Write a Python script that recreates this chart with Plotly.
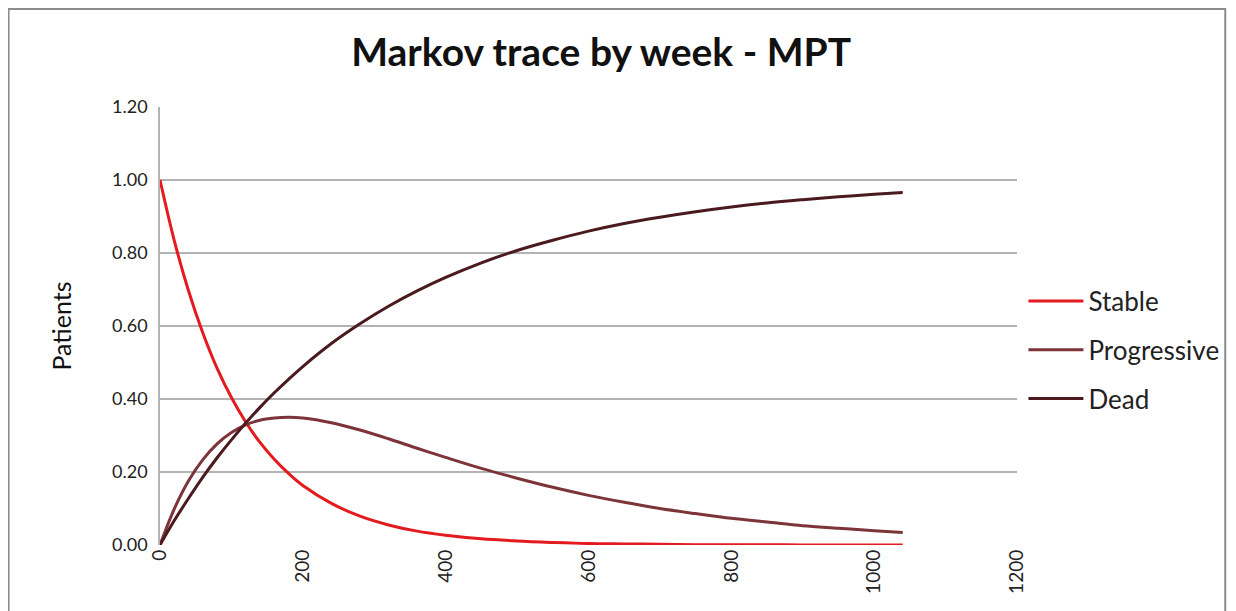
import plotly.graph_objects as go

weeks = [0, 20, 40, 60, 80, 100, 120, 140, 160, 180, 200, 240, 280, 320, 360, 400,
         450, 500, 550, 600, 650, 700, 750, 800, 850, 900, 950, 1000, 1040]
stable = [1.0, 0.834, 0.696, 0.581, 0.484, 0.404, 0.337, 0.281, 0.235, 0.196, 0.163,
          0.114, 0.079, 0.055, 0.038, 0.027, 0.017, 0.011, 0.007, 0.004, 0.003, 0.002,
          0.001, 0.001, 0.0005, 0.0003, 0.0002, 0.0001, 0.0001]
progressive = [0.0, 0.099, 0.176, 0.234, 0.277, 0.308, 0.329, 0.342, 0.348, 0.350, 0.348,
               0.335, 0.315, 0.291, 0.265, 0.240, 0.210, 0.183, 0.158, 0.136, 0.117, 0.100,
               0.086, 0.073, 0.063, 0.053, 0.046, 0.039, 0.034]
dead = [0.0, 0.067, 0.128, 0.186, 0.239, 0.288, 0.334, 0.377, 0.417, 0.454, 0.489,
        0.552, 0.606, 0.654, 0.696, 0.733, 0.773, 0.807, 0.835, 0.860, 0.881, 0.898,
        0.913, 0.926, 0.937, 0.946, 0.954, 0.961, 0.966]

series = [("Stable", stable, "#E31B1F"),
          ("Progressive", progressive, "#7D3439"),
          ("Dead", dead, "#4A1A1E")]

FONT = "Lato, 'Open Sans', sans-serif"

fig = go.Figure()
for i, (name, vals, col) in enumerate(series):
    fig.add_trace(go.Scatter(x=weeks, y=vals, name=name, mode="lines",
                             line=dict(color=col, width=3, shape="spline"),
                             legendgroup=f"g{i}"))

fig.update_layout(
    width=1228, height=603,
    margin=dict(l=152, r=216, t=99, b=66),
    paper_bgcolor="white", plot_bgcolor="white",
    font=dict(family=FONT, color="#222"),
    title=dict(text="<b>Markov trace by week - MPT</b>", x=0.483, xanchor="center",
               xref="container", yref="container",
               y=0.927, yanchor="middle", font=dict(size=39, family=FONT, color="#111")),
    showlegend=True,
    legend=dict(x=1.0075, xanchor="left", y=0.445, yanchor="middle",
                font=dict(size=26, family=FONT, color="#222"),
                itemwidth=55,
                tracegroupgap=12, bgcolor="rgba(0,0,0,0)"),
    xaxis=dict(range=[0, 1200], tickvals=[0, 200, 400, 600, 800, 1000, 1200],
               ticktext=["0", "200", "400", "600", "800", "1000", "1200"],
               tickangle=-90, showgrid=False, zeroline=False, showline=False,
               ticks="", tickfont=dict(size=19, family=FONT, color="#222")),
    yaxis=dict(range=[0, 1.2], tickvals=[0, 0.2, 0.4, 0.6, 0.8, 1.0, 1.2],
               ticktext=["0.00", "0.20", "0.40", "0.60", "0.80", "1.00", "1.20"],
               showgrid=True, gridcolor="#B3B3B3", gridwidth=1.5, zeroline=False,
               showline=True, linecolor="#B3B3B3", linewidth=1.5, ticks="",
               ticklabelstandoff=7,
               tickfont=dict(size=18, family=FONT, color="#222"),
               title=dict(text="Patients", standoff=33,
                          font=dict(size=25, family=FONT, color="#111"))),
)

# outer chart frame
fig.add_shape(type="rect", xref="paper", yref="paper",
              x0=-0.1767, x1=1.243, y0=-0.2, y1=1.224,
              line=dict(color="#8C8C8C", width=2), fillcolor="rgba(0,0,0,0)", layer="below")

fig.write_html("out.html")
